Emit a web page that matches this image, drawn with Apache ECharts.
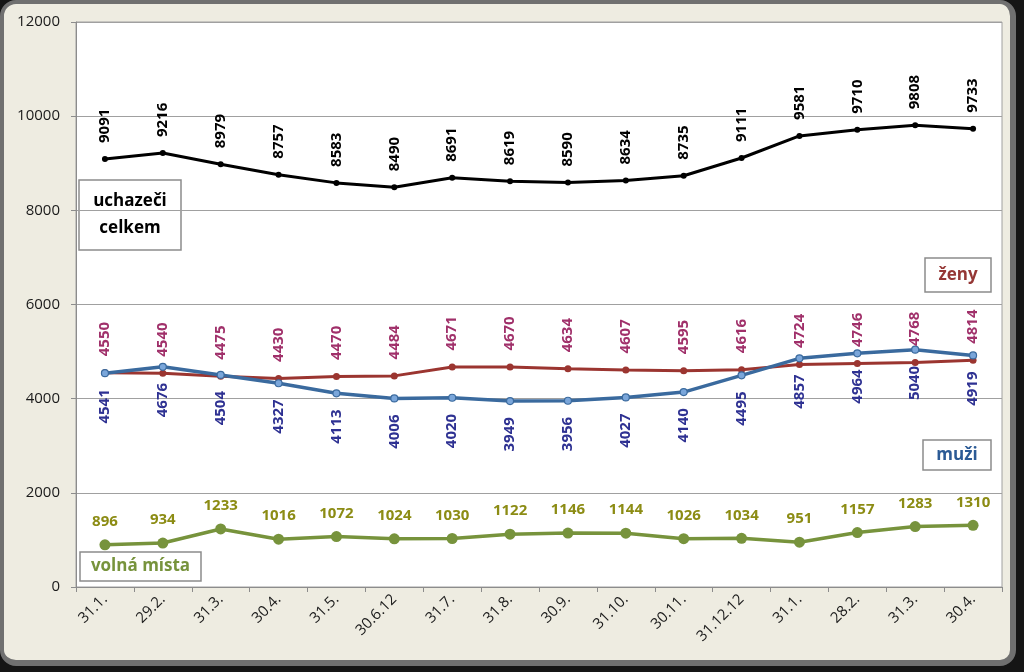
<!DOCTYPE html>
<html>
<head>
<meta charset="utf-8">
<script src="https://cdn.jsdelivr.net/npm/echarts@6/dist/echarts.min.js"></script>
<style>
  html, body { margin: 0; padding: 0; background: #151515; }
  #frame { position: absolute; left: 0; top: 0; width: 1016px; height: 666px; box-sizing: border-box;
           border: 4px solid #707070; border-right-width: 6px; border-bottom-width: 6px;
           border-radius: 16px; background: #EEECE1; }
  #chart { position: absolute; left: 0; top: 0; width: 1024px; height: 672px; }
</style>
</head>
<body>
<div id="frame"></div>
<div id="chart"></div>
<script>
const categories = ['31.1.', '29.2.', '31.3.', '30.4.', '31.5.', '30.6.12', '31.7.', '31.8.', '30.9.', '31.10.', '30.11.', '31.12.12', '31.1.', '28.2.', '31.3.', '30.4.'];
const uchazeciCelkem = [9091, 9216, 8979, 8757, 8583, 8490, 8691, 8619, 8590, 8634, 8735, 9111, 9581, 9710, 9808, 9733];
const zeny = [4550, 4540, 4475, 4430, 4470, 4484, 4671, 4670, 4634, 4607, 4595, 4616, 4724, 4746, 4768, 4814];
const muzi = [4541, 4676, 4504, 4327, 4113, 4006, 4020, 3949, 3956, 4027, 4140, 4495, 4857, 4964, 5040, 4919];
const volnaMista = [896, 934, 1233, 1016, 1072, 1024, 1030, 1122, 1146, 1144, 1026, 1034, 951, 1157, 1283, 1310];

const FONT = '"Open Sans", sans-serif';
const AXFONT = '"Open Sans", sans-serif';
const chart = echarts.init(document.getElementById('chart'), null, { renderer: 'canvas' });

function box(x, y, w, h, lines, color) {
  return { type: 'group', x: x, y: y, z: 100, children: [
    { type: 'rect', shape: { x: 0, y: 0, width: w, height: h },
      style: { fill: '#fff', stroke: '#8c8c8c', lineWidth: 1.5 } },
    { type: 'text', x: w / 2, y: h / 2,
      style: { text: lines, fill: color, font: 'bold 17px ' + FONT, align: 'center', verticalAlign: 'middle', lineHeight: 27 } }
  ] };
}

const option = {
  animation: false,
  backgroundColor: 'transparent',
  grid: { left: 76, right: 22, top: 22, bottom: 85, show: true, backgroundColor: '#fff', borderColor: '#a0a0a0', borderWidth: 1 },
  xAxis: {
    type: 'category', data: categories, boundaryGap: true,
    axisLine: { lineStyle: { color: '#8c8c8c', width: 1 } },
    axisTick: { show: true, length: 5, lineStyle: { color: '#8c8c8c' } },
    axisLabel: { rotate: 45, fontFamily: AXFONT, fontSize: 15, color: '#1a1a1a', margin: 10, interval: 0 }
  },
  yAxis: {
    type: 'value', min: 0, max: 12000, interval: 2000,
    axisLine: { show: true, lineStyle: { color: '#8c8c8c' } },
    axisTick: { show: true, length: 5, lineStyle: { color: '#8c8c8c' } },
    axisLabel: { fontFamily: AXFONT, fontSize: 15, color: '#1a1a1a', margin: 16, formatter: v => String(v) },
    splitLine: { lineStyle: { color: '#a0a0a0', width: 1 } }
  },
  series: [
    {
      name: 'uchazeči celkem', type: 'line', data: uchazeciCelkem,
      symbol: 'circle', symbolSize: 6,
      lineStyle: { color: '#000', width: 3 }, itemStyle: { color: '#000' },
      label: { show: true, position: 'top', rotate: 90, align: 'left', verticalAlign: 'middle', distance: 13,
               fontFamily: FONT, fontWeight: 'bold', fontSize: 15, color: '#000' }
    },
    {
      name: 'ženy', type: 'line', data: zeny,
      symbol: 'circle', symbolSize: 7,
      lineStyle: { color: '#9B3530', width: 3 }, itemStyle: { color: '#9B3530' },
      label: { show: true, position: 'top', rotate: 90, align: 'left', verticalAlign: 'middle', distance: 13,
               fontFamily: FONT, fontWeight: 'bold', fontSize: 15, color: '#A0306A' }
    },
    {
      name: 'muži', type: 'line', data: muzi,
      symbol: 'circle', symbolSize: 7,
      lineStyle: { color: '#3A6A9E', width: 3.5 }, itemStyle: { color: '#7AA6DA', borderColor: '#3A6A9E', borderWidth: 1.2 },
      label: { show: true, position: 'bottom', rotate: 90, align: 'right', verticalAlign: 'middle', distance: 12,
               fontFamily: FONT, fontWeight: 'bold', fontSize: 15, color: '#2E3192' }
    },
    {
      name: 'volná místa', type: 'line', data: volnaMista,
      symbol: 'circle', symbolSize: 11,
      lineStyle: { color: '#77933C', width: 3.5 }, itemStyle: { color: '#77933C' },
      label: { show: true, position: 'top', distance: 10,
               fontFamily: FONT, fontWeight: 'bold', fontSize: 15, color: '#8C8C14' }
    }
  ],
  graphic: [
    box(79, 180, 102, 70, 'uchazeči\ncelkem', '#000'),
    box(925, 258, 66, 34, 'ženy', '#953735'),
    box(923, 440, 68, 30, 'muži', '#2B5A95'),
    box(80, 552, 121, 29, 'volná místa', '#77933C')
  ]
};
chart.setOption(option);
</script>
</body>
</html>
